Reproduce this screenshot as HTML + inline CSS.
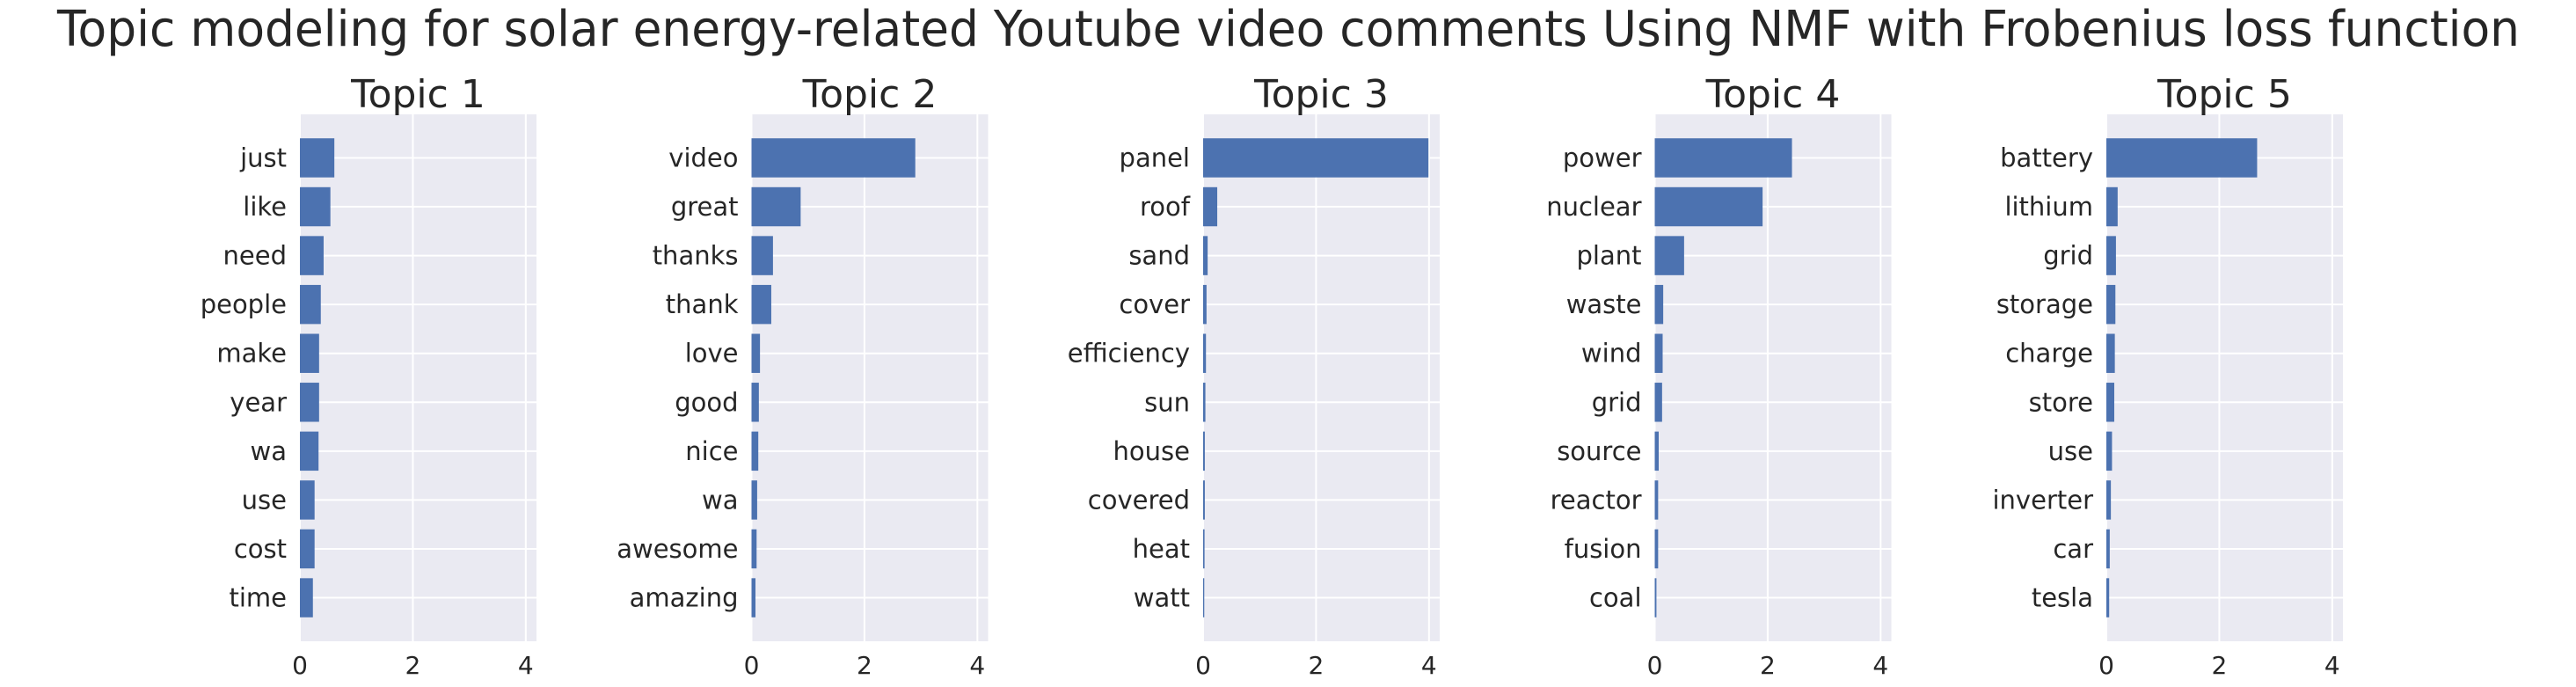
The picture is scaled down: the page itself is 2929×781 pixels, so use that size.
<!DOCTYPE html>
<html><head><meta charset="utf-8"><style>
html,body{margin:0;padding:0;background:#fff;}
svg{display:block;font-family:"DejaVu Sans","Liberation Sans",sans-serif;}
</style></head><body>
<svg id="fig" width="2929" height="781" viewBox="0 0 2929 781" xmlns="http://www.w3.org/2000/svg">
<text x="1465" y="52" text-anchor="middle" font-size="56" fill="#262626" textLength="2800" lengthAdjust="spacingAndGlyphs">Topic modeling for solar energy-related Youtube video comments Using NMF with Frobenius loss function</text>
</svg>
<script>
const topicTitles = ["Topic 1","Topic 2","Topic 3","Topic 4","Topic 5"];
const words1 = ["just","like","need","people","make","year","wa","use","cost","time"];
const values1 = [0.61,0.54,0.42,0.37,0.34,0.34,0.33,0.26,0.26,0.23];
const words2 = ["video","great","thanks","thank","love","good","nice","wa","awesome","amazing"];
const values2 = [2.9,0.87,0.38,0.35,0.15,0.13,0.12,0.1,0.09,0.07];
const words3 = ["panel","roof","sand","cover","efficiency","sun","house","covered","heat","watt"];
const values3 = [3.99,0.25,0.08,0.06,0.05,0.04,0.03,0.03,0.025,0.02];
const words4 = ["power","nuclear","plant","waste","wind","grid","source","reactor","fusion","coal"];
const values4 = [2.43,1.91,0.52,0.15,0.14,0.13,0.07,0.06,0.06,0.03];
const words5 = ["battery","lithium","grid","storage","charge","store","use","inverter","car","tesla"];
const values5 = [2.67,0.2,0.17,0.16,0.15,0.14,0.1,0.08,0.06,0.05];
const xTicks = [0,2,4];

const NS="http://www.w3.org/2000/svg";
const svg=document.getElementById('fig');
function mk(tag,attrs,parent){const e=document.createElementNS(NS,tag);for(const k in attrs)e.setAttribute(k,attrs[k]);(parent||svg).appendChild(e);return e;}
const allWords=[words1,words2,words3,words4,words5];
const allVals=[values1,values2,values3,values4,values5];
const maxV=Math.max(...allVals.flat());
const xMax=maxV*1.05;
const axTop=130, axBot=729, axW=269, axL0=341, pitchX=513.5;
const n=10, yMin=-0.4-0.49, yMax=(n-1)+0.4+0.49;
for(let t=0;t<5;t++){
  const L=axL0+t*pitchX;
  const xs=v=>L+v/xMax*axW;
  const ys=i=>axTop+(i-yMin)/(yMax-yMin)*(axBot-axTop);
  const bw=0.8/(yMax-yMin)*(axBot-axTop);
  const g=mk('g',{});
  
  
  const bg=mk('rect',{x:L,y:axTop,width:axW,height:axBot-axTop,fill:'#EAEAF2'},g);
  
  
  xTicks.forEach(v=>{
    const gl=mk('line',{x1:xs(v),x2:xs(v),y1:axTop,y2:axBot,stroke:'#fff','stroke-width':2},g);
    
    
    const tl=mk('text',{x:xs(v),y:axBot+37,'text-anchor':'middle','font-size':28,fill:'#262626'},g);
    
    
    tl.textContent=v;
  });
  allWords[t].forEach((w,i)=>{
    const gl=mk('line',{x1:L,x2:L+axW,y1:ys(i),y2:ys(i),stroke:'#fff','stroke-width':2},g);
    
    
    const b=mk('rect',{x:L,y:ys(i)-bw/2,width:xs(allVals[t][i])-L,height:bw,fill:'#4C72B0'},g);
    
    
    const lb=mk('text',{x:L-15,y:ys(i)+10,'text-anchor':'end','font-size':29,fill:'#262626'},g);
    
    
    lb.textContent=w;
  });
  const tt=mk('text',{x:L+axW/2,y:axTop-8,'text-anchor':'middle','font-size':44,fill:'#262626'},g);
  
  
  tt.textContent=topicTitles[t];
}
</script>
</body></html>
